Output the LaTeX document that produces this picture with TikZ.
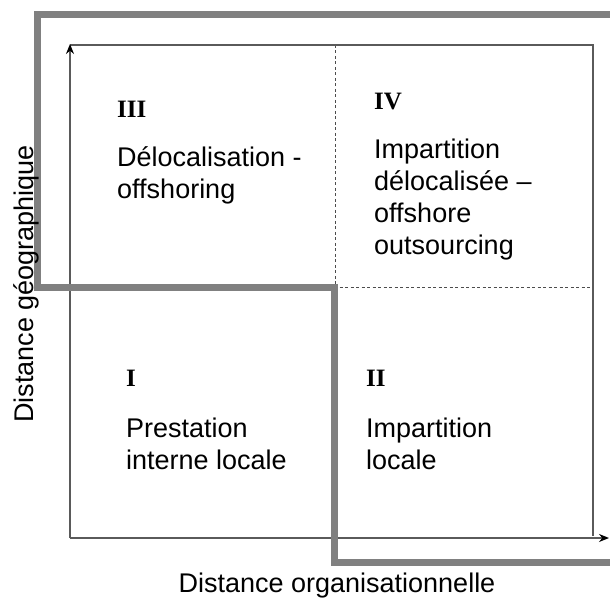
\documentclass[tikz,border=0pt]{standalone}
\usepackage{fontspec}
\setmainfont{Liberation Sans}
\newfontfamily\numfont{Liberation Serif}
\usetikzlibrary{positioning, arrows.meta}
\definecolor{framegray}{HTML}{808080}
\definecolor{linegray}{HTML}{5A5A5A}
\tikzset{
>={Stealth[length=10pt, width=8pt, color=black]}, % axis arrow heads
x=1pt, y=1pt, % one unit is one pixel of the sketch
frame/.style={line width=7pt, framegray, miter limit=10}, % the thick grey outline
box/.style={line width=1.5pt, linegray}, % the square and its axes
split/.style={line width=1pt, linegray!85!black, dash pattern=on 3pt off 2.5pt}, % quadrant borders
roman/.style={inner sep=0pt, anchor=base west, font=\numfont\bfseries\fontsize{25}{30}\selectfont},
quad/.style={inner sep=0pt, anchor=base west, align=left, font=\fontsize{27}{32}\selectfont}, % base = last line
axislabel/.style={inner sep=0pt, font=\fontsize{27}{32}\selectfont},
}
\begin{document}
\begin{tikzpicture}
                \useasboundingbox (0,0) rectangle (610,-609);
                % corners of the square and axis ends
                \coordinate (o) at (70,-538);
                \coordinate (xend) at (609,-538);
                \coordinate (yend) at (70,-44);
                \coordinate (tl) at (70,-45);
                \coordinate (tr) at (593,-45);
                \coordinate (br) at (593,-536);
                \coordinate (mt) at (335,-45);
                \coordinate (mid) at (335,-288);
                \coordinate (mr) at (593,-288);
                % thick outline
                \coordinate (f1) at (614,-14.5);
                \coordinate (f2) at (37,-14.5);
                \coordinate (f3) at (37,-288);
                \coordinate (f4) at (334,-288);
                \coordinate (f5) at (334,-562);
                \coordinate (f6) at (614,-562);
                \draw[split] (mt) -- (mid) -- (mr);
                \draw[box] (tl) -- (tr) -- (br);
                \draw[box, ->] (o) -- (xend);
                \draw[box, ->] (o) -- (yend);
                \draw[frame] (f1) -- (f2) -- (f3) -- (f4) -- (f5) -- (f6);
                % quadrants
                \node[roman] (r3) at (117,-118) {III};
                \node[quad] (t3) at (117,-199) {Délocalisation -\\offshoring};
                \node[roman] (r4) at (374,-110) {IV};
                \node[quad] (t4) at (374,-255) {Impartition\\délocalisée –\\offshore\\outsourcing};
                \node[roman] (r1) at (126,-386) {I};
                \node[quad] (t1) at (126,-469) {Prestation\\interne locale};
                \node[roman] (r2) at (366,-386) {II};
                \node[quad] (t2) at (366,-469) {Impartition\\locale};
                % axis titles
                \node[axislabel, anchor=base] (xl) at (337,-592) {Distance organisationnelle};
                \node[axislabel, rotate=90, anchor=base] (yl) at (33,-284) {Distance géographique};
\end{tikzpicture}
\end{document}
